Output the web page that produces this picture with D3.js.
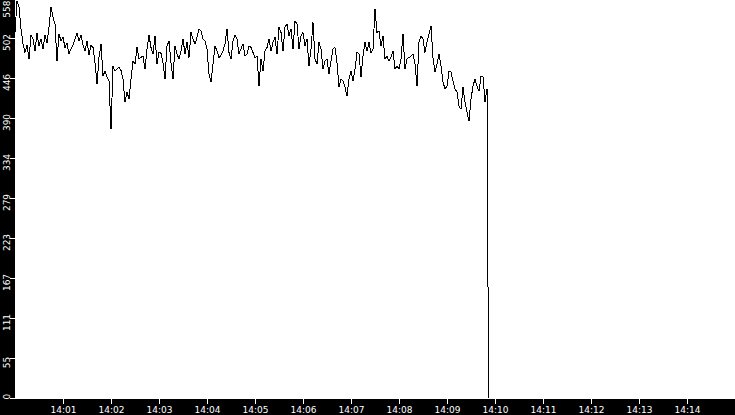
<!DOCTYPE html>
<html>
<head>
<meta charset="utf-8">
<script src="https://cdn.jsdelivr.net/npm/d3@7"></script>
<style>
body { margin: 0; background: #000; }
svg { display: block; }
</style>
</head>
<body>
<script>
// samples every 2.5 s starting at 14:00:00
const sampleStart = '14:00:00'
const sampleStep = 2.5
const values = [
	510, 554, 545, 515, 494, 482, 492, 473, 506, 501,
	484, 509, 491, 501, 487, 506, 495, 517, 545, 531,
	522, 470, 508, 498, 503, 489, 495, 480, 487, 492,
	501, 509, 498, 506, 492, 484, 498, 478, 492, 489,
	468, 438, 475, 494, 449, 456, 448, 442, 375, 463,
	456, 459, 462, 457, 445, 413, 427, 417, 445, 470,
	466, 489, 473, 475, 477, 459, 487, 506, 489, 480,
	505, 466, 482, 481, 468, 445, 491, 498, 468, 445,
	491, 480, 473, 484, 501, 480, 496, 475, 510, 501,
	494, 503, 515, 512, 501, 498, 487, 452, 441, 466,
	491, 484, 475, 478, 484, 494, 515, 482, 473, 498,
	506, 501, 480, 487, 494, 477, 480, 491, 489, 482,
	475, 477,
	435, 473, 456, 484, 489, 501, 484, 496, 503, 480,
	517, 510, 484, 517, 522, 505, 515, 487, 526, 522,
	487, 505, 510, 491, 501, 463, 487, 524, 473, 466,
	496, 487, 459, 470, 473, 452, 470, 487, 489, 468,
	434, 445, 442, 434, 421, 445, 456, 442, 459, 482,
	480, 448, 477, 496, 484, 496, 482, 487, 543,
	510, 512, 491, 505, 473, 477, 470, 475, 484, 459,
	463, 459, 473, 508, 459, 473, 475, 477, 480, 466,
	435, 496, 505, 501, 482, 496, 508, 519, 475, 455,
	466, 480, 463, 441, 431, 435, 456, 455, 442, 431,
	427, 407, 403, 434, 413, 399, 386, 417, 435, 445,
	435, 428, 449, 448, 413, 431
]
// the drop at the end
const tailTimes = ['14:09:51', '14:09:52']
const tailValues = [210, 0]

const timeStart = '14:00:00'
const timeEnd = '14:15:00'
const xTickLabels = ['14:01', '14:02', '14:03', '14:04', '14:05', '14:06', '14:07',
	'14:08', '14:09', '14:10', '14:11', '14:12', '14:13', '14:14']

const yMax = 558
const yTickLabels = ['0', '55', '111', '167', '223', '279', '334', '390', '446', '502', '558']

const margin = {
	top: 0,
	right: 0,
	bottom: 16,
	left: 15
}
const width = 735 - margin.left - margin.right
const height = 415 - margin.top - margin.bottom

const parseTime = d3.timeParse('%H:%M:%S')
const parseTick = d3.timeParse('%H:%M')

const points = values.map((v, i) => ({
	t: new Date(+parseTime(sampleStart) + i * sampleStep * 1000),
	v: v
}))
tailTimes.forEach((t, i) => points.push({ t: parseTime(t), v: tailValues[i] }))

const svg = d3.select('body').append('svg')
	.attr('width', 735)
	.attr('height', 415)
	.style('background', '#000')

const g = svg.append('g')
	.attr('transform', `translate(${margin.left},${margin.top})`)

g.append('rect')
	.attr('width', width)
	.attr('height', height)
	.attr('fill', '#fff')

g.append('clipPath')
	.attr('id', 'plot-clip')
	.append('rect')
		.attr('width', width)
		.attr('height', height)

const x = d3.scaleTime()
	.domain([parseTime(timeStart), parseTime(timeEnd)])
	.range([0, width])

const y = d3.scaleLinear()
	.domain([0, yMax])
	.range([height - 1, -2])

const line = d3.line()
	.x(d => x(d.t))
	.y(d => y(d.v))

g.append('path')
	.datum(points)
	.attr('clip-path', 'url(#plot-clip)')
	.attr('fill', 'none')
	.attr('stroke', '#000')
	.attr('stroke-width', 1)
	.attr('shape-rendering', 'crispEdges')
	.attr('d', line)

// x axis
const xAxis = d3.axisBottom(x)
	.tickValues(xTickLabels.map(parseTick))
	.tickFormat(d3.timeFormat('%H:%M'))
	.tickSize(5)

const xg = g.append('g')
	.attr('transform', `translate(0,${height})`)
	.call(xAxis)

// y axis, labels turned on their side
const yTicks = d3.range(yTickLabels.length).map(i => i * yMax / (yTickLabels.length - 1))

const yAxis = d3.axisLeft(y)
	.tickValues(yTicks)
	.tickFormat((d, i) => yTickLabels[i])
	.tickSize(5)

const yg = g.append('g')
	.call(yAxis)

;[xg, yg].forEach(a => {
	a.select('.domain').remove()
	a.attr('font-family', '"DejaVu Sans", sans-serif')
		.attr('font-size', 9)
	a.selectAll('line').attr('stroke', '#fff')
	a.selectAll('text').attr('fill', '#fff')
})

yg.selectAll('.tick text')
	.attr('transform', 'rotate(-90)')
	.attr('text-anchor', 'middle')
	.attr('dy', 0)
	.attr('y', -5.5)
	.attr('x', function (d) {
		const w = this.getComputedTextLength()
		let c = y(d) + 4
		c = Math.max(c, w / 2)
		c = Math.min(c, height - w / 2)
		return -(c - y(d))
	})
</script>
</body>
</html>
